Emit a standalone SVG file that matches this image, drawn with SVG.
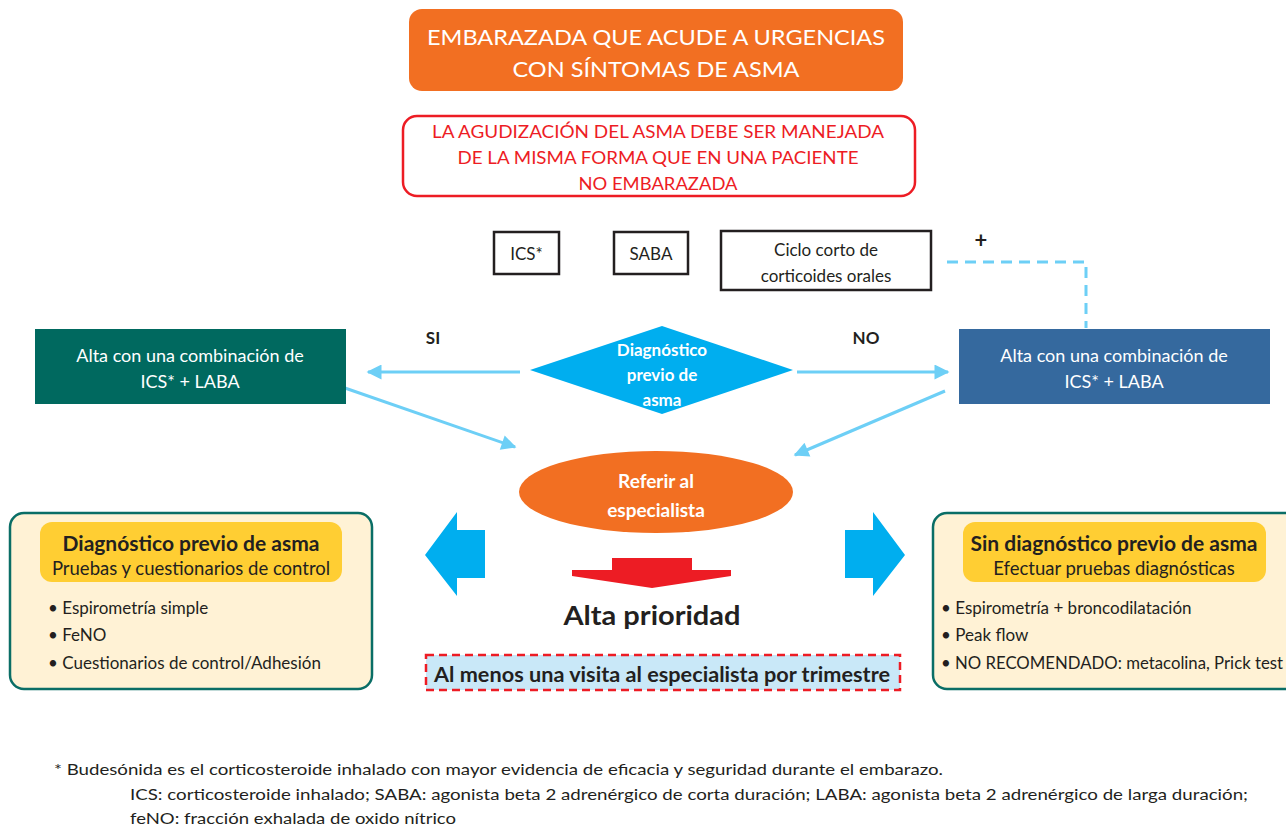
<svg xmlns="http://www.w3.org/2000/svg" width="1286" height="829" viewBox="0 0 1286 829">
<defs>
<marker id="ah" viewBox="0 0 10 10" refX="9" refY="5" markerWidth="6" markerHeight="5" markerUnits="strokeWidth" orient="auto">
<path d="M0,0 L10,5 L0,10 z" fill="#6DCFF6"/>
</marker>
<style>
text{font-family:Lato,"Open Sans","Liberation Sans",sans-serif}
.w{fill:#fff}
.c{text-anchor:middle}
.b{font-weight:bold}
.conn{stroke:#6DCFF6;stroke-width:3;fill:none}
.k{fill:#231F20}
.box{fill:#fff;stroke:#231F20;stroke-width:2.5}
.panel{fill:#FFF2D5;stroke:#0A6E66;stroke-width:2.5}
.tag{fill:#FFCE33}
</style>
</defs>
<rect width="1286" height="829" fill="#fff"/>

<g id="connectors">
<path class="conn" d="M520,372 L368,372" marker-end="url(#ah)"/>
<path class="conn" d="M797,372 L948,372" marker-end="url(#ah)"/>
<path class="conn" d="M342,387 L515,447" marker-end="url(#ah)"/>
<path class="conn" d="M945,391 L795,455" marker-end="url(#ah)"/>
<path d="M947,262 L1086,262 L1086,328" stroke="#6DCFF6" stroke-width="3" fill="none" stroke-dasharray="11,7"/>
<text x="433" y="344" class="c k b" font-size="17">SI</text>
<text x="866" y="344" class="c k b" font-size="17">NO</text>
<text x="981" y="248" class="c k b" font-size="22">+</text>
</g>

<g id="n-top">
<rect x="409" y="9" width="494" height="82" rx="13" fill="#F26F22"/>
<text x="656" y="45" class="c w" font-size="22" textLength="458" lengthAdjust="spacingAndGlyphs">EMBARAZADA QUE ACUDE A URGENCIAS</text>
<text x="656" y="77" class="c w" font-size="22" textLength="287" lengthAdjust="spacingAndGlyphs">CON SÍNTOMAS DE ASMA</text>
</g>

<g id="n-agud">
<rect x="403" y="116" width="512" height="80" rx="14" fill="#fff" stroke="#ED1C24" stroke-width="2.5"/>
<text x="658" y="138" class="c" fill="#ED1C24" font-size="17" textLength="452" lengthAdjust="spacingAndGlyphs">LA AGUDIZACIÓN DEL ASMA DEBE SER MANEJADA</text>
<text x="658" y="164" class="c" fill="#ED1C24" font-size="17" textLength="401" lengthAdjust="spacingAndGlyphs">DE LA MISMA FORMA QUE EN UNA PACIENTE</text>
<text x="658" y="190" class="c" fill="#ED1C24" font-size="17" textLength="159" lengthAdjust="spacingAndGlyphs">NO EMBARAZADA</text>
</g>

<g id="n-ics">
<rect x="494" y="232" width="65" height="42" class="box"/>
<text x="526.5" y="260" class="c k" font-size="17">ICS*</text>
</g>
<g id="n-saba">
<rect x="614" y="232" width="74" height="42" class="box"/>
<text x="651" y="260" class="c k" font-size="17">SABA</text>
</g>
<g id="n-ciclo">
<rect x="721" y="231" width="210" height="59" class="box"/>
<text x="826" y="256" class="c k" font-size="17">Ciclo corto de</text>
<text x="826" y="282" class="c k" font-size="17">corticoides orales</text>
</g>

<g id="n-alta-si">
<rect x="35" y="329" width="311" height="75" fill="#00695F"/>
<text x="190" y="362" class="c w" font-size="18">Alta con una combinación de</text>
<text x="190" y="388" class="c w" font-size="18">ICS* + LABA</text>
</g>

<g id="n-alta-no">
<rect x="959" y="329" width="311" height="75" fill="#35699E"/>
<text x="1114" y="362" class="c w" font-size="18">Alta con una combinación de</text>
<text x="1114" y="388" class="c w" font-size="18">ICS* + LABA</text>
</g>

<g id="n-diag">
<polygon points="530,370 662,326 793,370 662,414" fill="#00AEEF"/>
<text x="662" y="356" class="c w b" font-size="17">Diagnóstico</text>
<text x="662" y="381" class="c w b" font-size="17">previo de</text>
<text x="662" y="406" class="c w b" font-size="17">asma</text>
</g>

<g id="n-referir">
<ellipse cx="656" cy="492" rx="137" ry="41" fill="#F26F22"/>
<text x="656" y="488" class="c w b" font-size="19">Referir al</text>
<text x="656" y="517" class="c w b" font-size="19">especialista</text>
</g>

<g id="big-arrows">
<polygon points="425,555 457,512 457,530 485,530 485,578 457,578 457,596" fill="#00AEEF"/>
<polygon points="905,555 873,512 873,530 845,530 845,578 873,578 873,596" fill="#00AEEF"/>
<polygon points="612,558 692,558 692,570 731,570 731,576 652,588 572,576 572,570 612,570" fill="#ED1C24"/>
</g>

<g id="n-prioridad">
<text x="652" y="625" class="c k b" font-size="26" textLength="177" lengthAdjust="spacingAndGlyphs">Alta prioridad</text>
</g>

<g id="n-visita">
<rect x="426" y="655" width="474" height="35" fill="#C9E8F8" stroke="#ED1C24" stroke-width="2.5" stroke-dasharray="8,5"/>
<text x="662" y="682" class="c k b" font-size="20" textLength="456" lengthAdjust="spacingAndGlyphs">Al menos una visita al especialista por trimestre</text>
</g>

<g id="n-left-panel">
<rect x="10" y="513" width="362" height="176" rx="14" class="panel"/>
<rect x="40" y="522" width="302" height="60" rx="12" class="tag"/>
<text x="191" y="551" class="c k b" font-size="21">Diagnóstico previo de asma</text>
<text x="191" y="575" class="c k" font-size="18.5">Pruebas y cuestionarios de control</text>
<text x="48" y="614" class="k" font-size="17">• Espirometría simple</text>
<text x="48" y="641" class="k" font-size="17">• FeNO</text>
<text x="48" y="669" class="k" font-size="17">• Cuestionarios de control/Adhesión</text>
</g>

<g id="n-right-panel">
<rect x="933" y="513" width="366" height="176" rx="14" class="panel"/>
<rect x="963" y="522" width="303" height="60" rx="12" class="tag"/>
<text x="1114" y="551" class="c k b" font-size="21">Sin diagnóstico previo de asma</text>
<text x="1114" y="575" class="c k" font-size="18.5">Efectuar pruebas diagnósticas</text>
<text x="941" y="614" class="k" font-size="17">• Espirometría + broncodilatación</text>
<text x="941" y="641" class="k" font-size="17">• Peak flow</text>
<text x="941" y="669" class="k" font-size="17" textLength="342" lengthAdjust="spacingAndGlyphs">• NO RECOMENDADO: metacolina, Prick test</text>
</g>

<g id="footnote">
<text x="54" y="775" class="k" font-size="16" textLength="889" lengthAdjust="spacingAndGlyphs">* Budesónida es el corticosteroide inhalado con mayor evidencia de eficacia y seguridad durante el embarazo.</text>
<text x="130" y="800" class="k" font-size="16" textLength="1118" lengthAdjust="spacingAndGlyphs">ICS: corticosteroide inhalado; SABA: agonista beta 2 adrenérgico de corta duración; LABA: agonista beta 2 adrenérgico de larga duración;</text>
<text x="130" y="824" class="k" font-size="16" textLength="326" lengthAdjust="spacingAndGlyphs">feNO: fracción exhalada de oxido nítrico</text>
</g>
</svg>
